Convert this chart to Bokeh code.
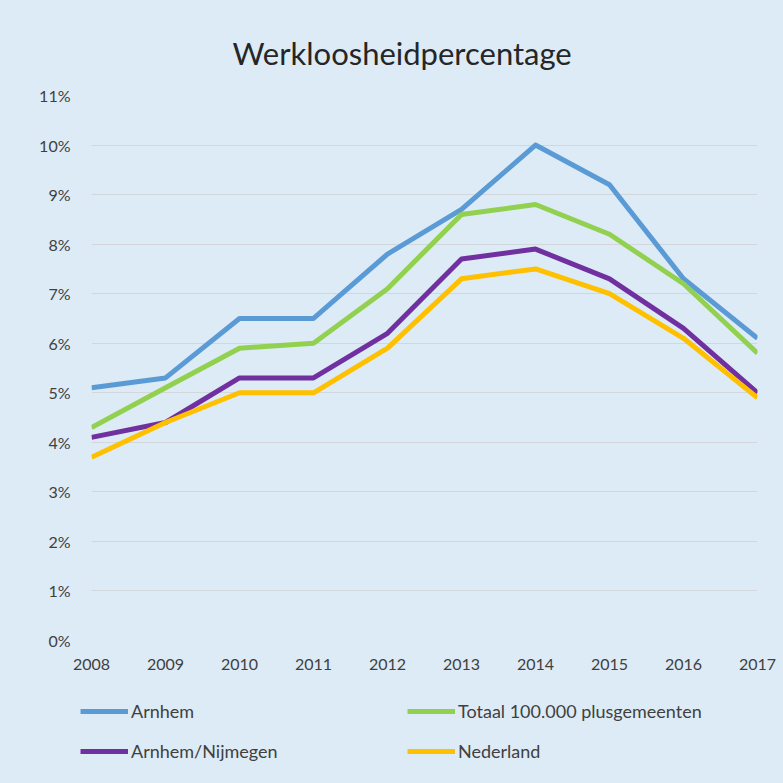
from bokeh.plotting import figure
from bokeh.layouts import column
from bokeh.models import Range1d, FixedTicker, PrintfTickFormatter, Legend, LegendItem, Title
from bokeh.embed import file_html
from bokeh.resources import INLINE

years = [2008, 2009, 2010, 2011, 2012, 2013, 2014, 2015, 2016, 2017]
arnhem = [5.1, 5.3, 6.5, 6.5, 7.8, 8.7, 10.0, 9.2, 7.3, 6.1]
totaal = [4.3, 5.1, 5.9, 6.0, 7.1, 8.6, 8.8, 8.2, 7.2, 5.8]
arnhem_nijmegen = [4.1, 4.4, 5.3, 5.3, 6.2, 7.7, 7.9, 7.3, 6.3, 5.0]
nederland = [3.7, 4.4, 5.0, 5.0, 5.9, 7.3, 7.5, 7.0, 6.1, 4.9]
y_ticks = list(range(0, 12))
title_text = "Werkloosheidpercentage"

BG = "#DDEBF7"
FONT = "Lato"
TXT = "#404040"

p = figure(width=783, height=680, output_backend="svg", toolbar_location=None,
           x_range=Range1d(2008, 2017), y_range=Range1d(0, 11),
           min_border_left=91, min_border_right=26, min_border_top=95, min_border_bottom=40)
p.background_fill_color = BG
p.border_fill_color = BG
p.outline_line_color = None
p.frame_align = False

p.xgrid.grid_line_color = None
p.ygrid.grid_line_color = "#D3D7DB"
p.ygrid.grid_line_width = 1
p.yaxis.ticker = FixedTicker(ticks=y_ticks)
p.xaxis.ticker = FixedTicker(ticks=years)
p.yaxis.formatter = PrintfTickFormatter(format="%d%%")
for ax in (p.xaxis, p.yaxis):
    ax.axis_line_color = None
    ax.major_tick_line_color = None
    ax.minor_tick_line_color = None
    ax.major_label_text_font = FONT
    ax.major_label_text_font_size = "16px"
    ax.major_label_text_color = TXT
p.yaxis.major_label_standoff = 15
p.xaxis.major_label_standoff = 12

series = [("Arnhem", arnhem, "#5B9BD5"),
          ("Totaal 100.000 plusgemeenten", totaal, "#92D050"),
          ("Arnhem/Nijmegen", arnhem_nijmegen, "#7030A0"),
          ("Nederland", nederland, "#FFC000")]
for name, vals, col in series:
    p.line(years, vals, line_color=col, line_width=5, line_join="round")

title = Title(text=title_text, align="left", offset=141, standoff=48,
              text_font=FONT, text_font_size="31px", text_color="#262626",
              text_font_style="normal")
p.add_layout(title, "above")

# legend strip below the chart
lg = figure(width=783, height=103, output_backend="svg", toolbar_location=None,
            x_range=Range1d(0, 1), y_range=Range1d(0, 1),
            min_border=0, min_border_left=0, min_border_right=0,
            min_border_top=0, min_border_bottom=0)
lg.frame_align = False
lg.axis.visible = False
lg.grid.visible = False
lg.background_fill_color = BG
lg.border_fill_color = BG
lg.outline_line_color = None
items = []
for name, vals, col in series:
    r = lg.line(x=[float("nan")], y=[float("nan")], line_color=col, line_width=5)
    items.append(LegendItem(label=name, renderers=[r]))
legend = Legend(items=items, location=(80, 21), orientation="horizontal", nrows=2,
                background_fill_alpha=0, border_line_color=None,
                label_text_font=FONT, label_text_font_size="18px", label_text_color=TXT,
                glyph_width=48, glyph_height=20, label_standoff=3, spacing=18,
                label_width=258, padding=0, margin=0)
lg.add_layout(legend, "center")

layout = column(p, lg, spacing=0, styles={"background-color": BG})
open("out.html", "w").write(file_html(layout, INLINE))
